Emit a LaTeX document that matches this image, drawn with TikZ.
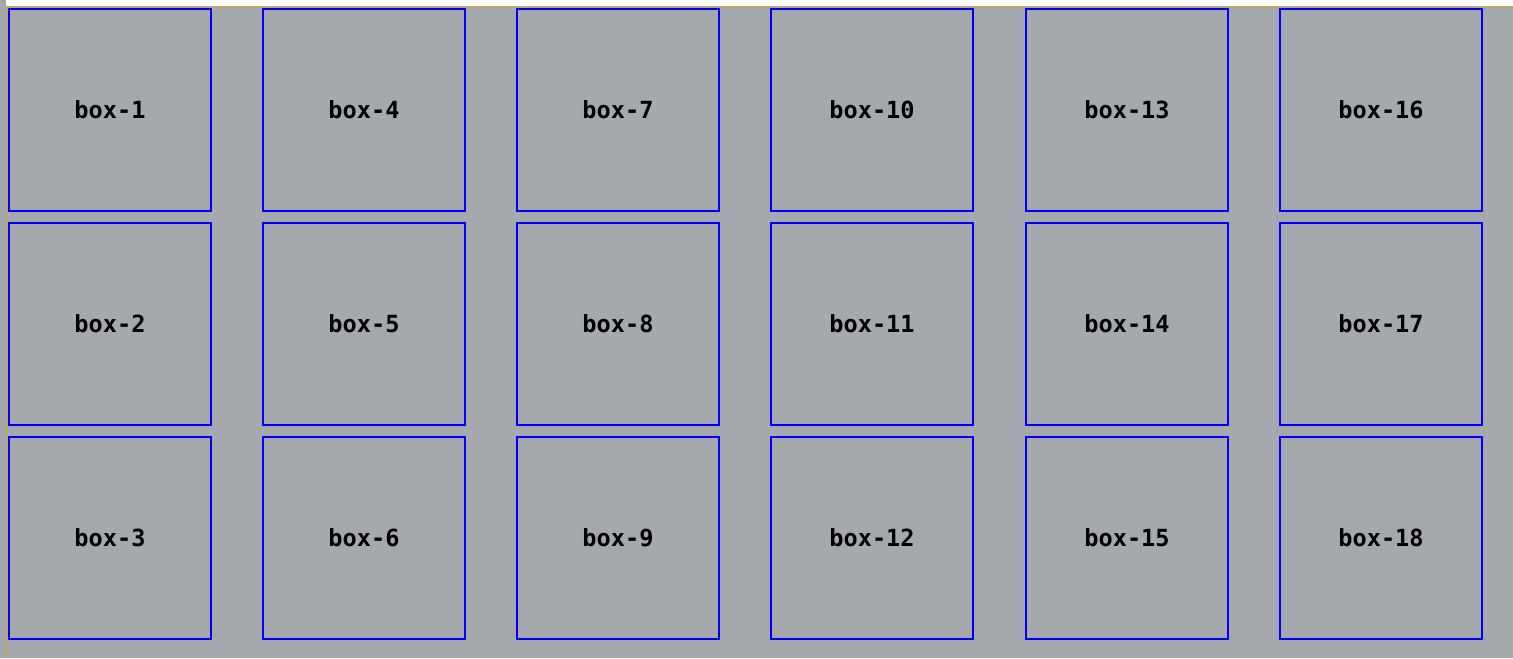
\documentclass[tikz,border=0pt]{standalone}
\usepackage{fontspec}
\newfontfamily\boxfont{DejaVu Sans Mono}
\definecolor{bggrey}{RGB}{165,169,173}
\definecolor{gold}{RGB}{218,165,32}
\definecolor{boxblue}{RGB}{0,0,255}
\begin{document}
\begin{tikzpicture}[x=0.5pt,y=-0.5pt,
  cell/.style={draw=boxblue,line width=1pt,minimum width=101pt,minimum height=101pt,
    inner sep=0pt,outer sep=0pt,font=\boxfont\bfseries\fontsize{11.8}{14}\selectfont,text=black}]
\useasboundingbox (0,0) rectangle (1513,658);
\fill[bggrey] (0,0) rectangle (1513,658);
\fill[white] (6,0) rectangle (1513,6);
\draw[gold,line width=0.8pt] (6.5,658) -- (6.5,6.5) -- (1513,6.5);
\foreach \c/\x in {0/110,1/364,2/618,3/872,4/1127,5/1381}{
  \foreach \r/\y in {1/110,2/324,3/538}{
    \pgfmathtruncatemacro{\n}{\c*3+\r}
    \node[cell] (box\n) at (\x,\y) {box-\n};
  }
}
\end{tikzpicture}
\end{document}
